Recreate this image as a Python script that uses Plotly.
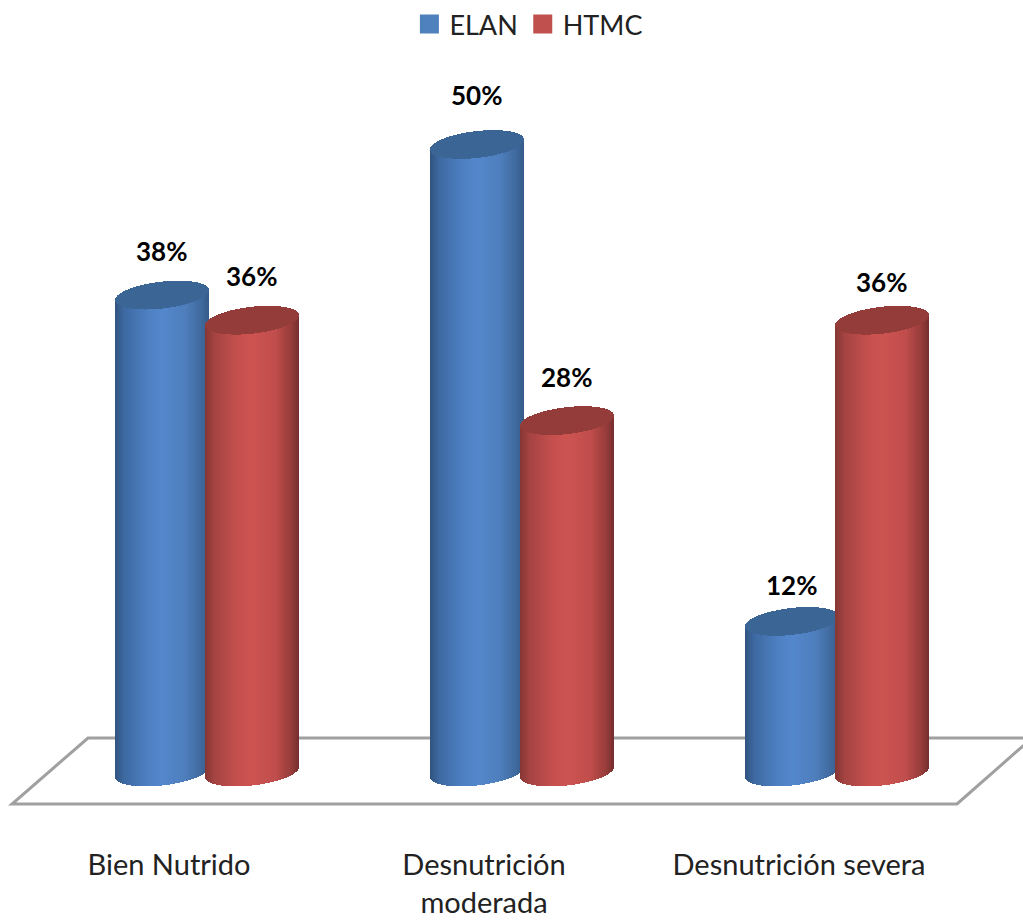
import numpy as np
import plotly.graph_objects as go

# Chart data
categories = ["Bien Nutrido", "Desnutrición<br>moderada", "Desnutrición severa"]
elan_values = [38, 50, 12]
htmc_values = [36, 28, 36]

# Canvas and scale
WIDTH, HEIGHT = 1023, 924
PX_PER_PCT = 12.55
BASE_PY = 772
PX_PER_GROUP = 315
FIRST_GROUP_PX = 207
FONT = "Lato, Open Sans, sans-serif"

# Cylinder geometry in pixels
BAR_W_PX = 94
SERIES_OFFSET_PX = 45
CAP_RY_PX = 13.5
CAP_TILT_PX = 5
STRIPS = 94
LABEL_OFFSET_PX = 38

group_x = np.arange(len(categories))


def ramp(stops, t):
    """Interpolate an RGB colour along (position, (r, g, b)) stops."""
    pos = [s[0] for s in stops]
    return "rgb({},{},{})".format(*[int(np.interp(t, pos, [s[1][c] for s in stops])) for c in range(3)])


def cylinder_traces(name, values, sign, stops, cap_color):
    """Body and cap of each cylinder, built from vertical one-pixel strips."""
    width = BAR_W_PX / PX_PER_GROUP
    centre = sign * SERIES_OFFSET_PX / PX_PER_GROUP
    ry = CAP_RY_PX / PX_PER_PCT
    tilt = CAP_TILT_PX / PX_PER_PCT
    us = (np.arange(STRIPS) + 0.5) / STRIPS * 2 - 1
    strip_w = width / STRIPS

    xs, body_base, body_h, colors, cap_base, cap_h = [], [], [], [], [], []
    for g, v in zip(group_x, values):
        for u in us:
            curve = ry * np.sqrt(1 - u * u)
            low = tilt * u - curve
            xs.append(g + centre + u * width / 2)
            body_base.append(low)
            body_h.append(v)
            colors.append(ramp(stops, (u + 1) / 2))
            cap_base.append(v + low)
            cap_h.append(2 * curve)

    body = go.Bar(x=xs, y=body_h, base=body_base, width=strip_w, name=name,
                  marker=dict(color=colors, line=dict(width=0)),
                  showlegend=False, hoverinfo="skip")
    cap = go.Bar(x=xs, y=cap_h, base=cap_base, width=strip_w, name=name,
                 marker=dict(color=cap_color, line=dict(width=0)),
                 showlegend=False, hoverinfo="skip")
    return [body, cap]


BLUE_STOPS = [(0, (48, 84, 128)), (0.1, (62, 106, 162)), (0.35, (78, 128, 194)),
              (0.5, (84, 136, 205)), (0.75, (78, 126, 188)), (0.92, (64, 106, 158)), (1, (52, 90, 136))]
RED_STOPS = [(0, (134, 54, 52)), (0.1, (164, 68, 66)), (0.35, (198, 80, 78)),
             (0.5, (206, 84, 82)), (0.75, (192, 78, 76)), (0.92, (150, 60, 58)), (1, (116, 46, 46))]

fig = go.Figure()
for tr in cylinder_traces("ELAN", elan_values, -1, BLUE_STOPS, "#3B6595"):
    fig.add_trace(tr)
for tr in cylinder_traces("HTMC", htmc_values, 1, RED_STOPS, "#943C3A"):
    fig.add_trace(tr)

# Legend swatches
for name, color in (("ELAN", "#4F81BD"), ("HTMC", "#C0504D")):
    fig.add_trace(go.Scatter(x=[None], y=[None], mode="markers", name=name,
                             marker=dict(symbol="square", size=16, color=color,
                                         line=dict(width=3, color=color))))

# Value labels above each cylinder
label_lift_px = {"ELAN": [44, 50, 36], "HTMC": [44, 44, 38]}
annotations = []
for name, values, sign in (("ELAN", elan_values, -1), ("HTMC", htmc_values, 1)):
    for g, v, lift in zip(group_x, values, label_lift_px[name]):
        annotations.append(dict(
            x=g + sign * SERIES_OFFSET_PX / PX_PER_GROUP, y=v, xref="x", yref="y",
            text=f"<b>{v}%</b>", showarrow=False, yshift=lift, xshift=-1,
            font=dict(family=FONT, size=26, color="#000000"),
        ))


def px(x):
    return x / WIDTH


def py(y):
    return 1 - y / HEIGHT


# Chart floor outline
floor_path = "M {},{} L {},{} L {},{} L {},{}".format(
    px(1032), py(738), px(88), py(738), px(12), py(804), px(957), py(804)
) + " L {},{}".format(px(1032), py(738))

fig.add_shape(type="path", path=floor_path, xref="paper", yref="paper", layer="below",
              line=dict(color="#A0A0A0", width=3), fillcolor="rgba(0,0,0,0)")

fig.update_layout(
    width=WIDTH, height=HEIGHT, autosize=False,
    margin=dict(l=0, r=0, t=0, b=0),
    paper_bgcolor="#FFFFFF", plot_bgcolor="#FFFFFF",
    barmode="overlay", bargap=0,
    font=dict(family=FONT, color="#222222"),
    annotations=annotations,
    legend=dict(orientation="h", x=0.517, xanchor="center", y=1, yanchor="top",
                font=dict(family=FONT, size=27, color="#222222"),
                itemclick=False, itemdoubleclick=False, bgcolor="rgba(0,0,0,0)"),
    xaxis=dict(
        range=[-FIRST_GROUP_PX / PX_PER_GROUP, (WIDTH - FIRST_GROUP_PX) / PX_PER_GROUP],
        tickmode="array", tickvals=list(group_x - LABEL_OFFSET_PX / PX_PER_GROUP),
        ticktext=categories, tickfont=dict(family=FONT, size=29, color="#222222"),
        showgrid=False, zeroline=False, showline=False, ticks="",
        anchor="free", position=1 - 845 / HEIGHT,
    ),
    yaxis=dict(
        range=[(BASE_PY - HEIGHT) / PX_PER_PCT, BASE_PY / PX_PER_PCT],
        visible=False, showgrid=False, zeroline=False,
    ),
)

fig.write_html("out.html")
